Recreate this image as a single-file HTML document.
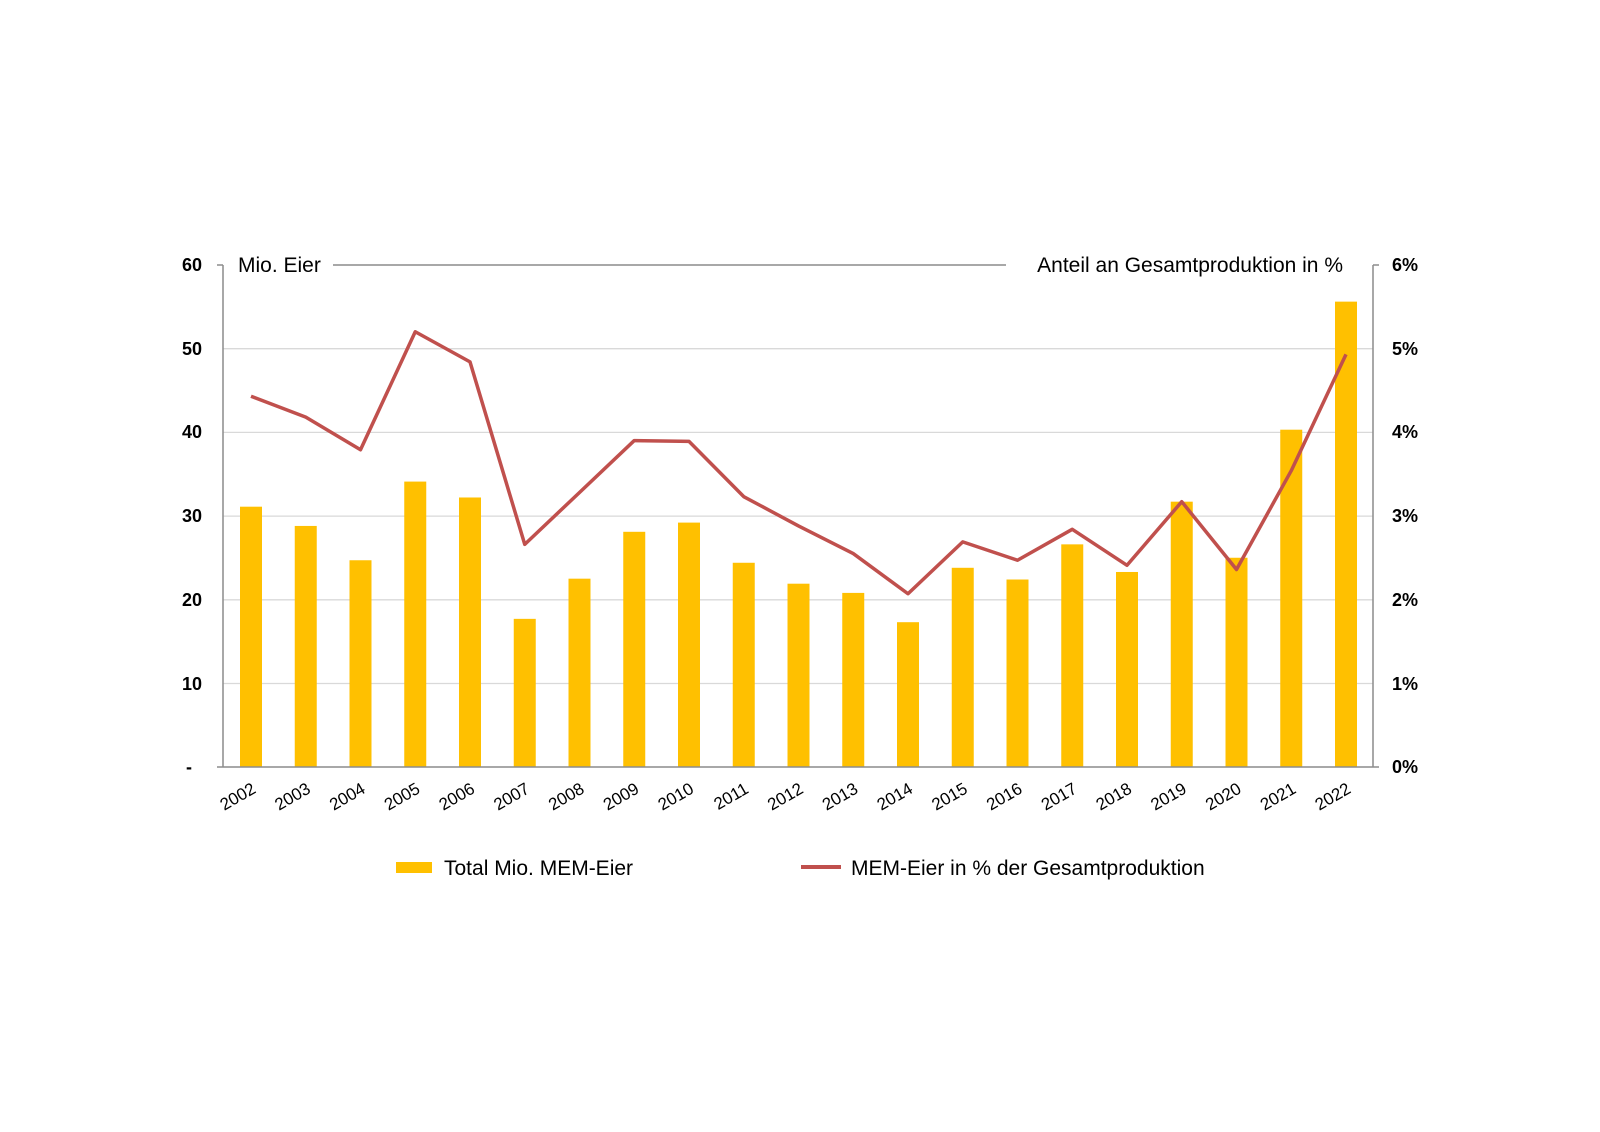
<!DOCTYPE html>
<html><head><meta charset="utf-8"><style>body{margin:0;background:#fff}svg{display:block}</style></head>
<body>
<svg width="1600" height="1132" viewBox="0 0 1600 1132" xmlns="http://www.w3.org/2000/svg" font-family="Liberation Sans, Arial, sans-serif">
<g stroke="#d9d9d9" stroke-width="1.3">
<line x1="223" x2="1373" y1="348.7" y2="348.7"/>
<line x1="223" x2="1373" y1="432.4" y2="432.4"/>
<line x1="223" x2="1373" y1="516.1" y2="516.1"/>
<line x1="223" x2="1373" y1="599.8" y2="599.8"/>
<line x1="223" x2="1373" y1="683.5" y2="683.5"/>
</g>
<g id="bars" fill="#ffc000"></g>
<g stroke="#8c8c8c" stroke-width="1.5" fill="none">
<line x1="223" y1="265" x2="223" y2="767"/>
<line x1="1373" y1="265" x2="1373" y2="767"/>
<line x1="223" y1="767" x2="1373" y2="767"/>
<line x1="217" y1="265" x2="223" y2="265"/>
<line x1="1373" y1="265" x2="1379" y2="265"/>
<line x1="217" y1="767" x2="223" y2="767"/>
<line x1="1373" y1="767" x2="1379" y2="767"/>
<line x1="333" y1="265" x2="1006" y2="265"/>
</g>
<polyline id="ln" fill="none" stroke="#c0504d" stroke-width="3.5" stroke-linejoin="round"/>
<g font-size="18" font-weight="bold" fill="#000">
<text x="202" y="271" text-anchor="end">60</text>
<text x="202" y="355" text-anchor="end">50</text>
<text x="202" y="438" text-anchor="end">40</text>
<text x="202" y="522" text-anchor="end">30</text>
<text x="202" y="606" text-anchor="end">20</text>
<text x="202" y="690" text-anchor="end">10</text>
<text x="192" y="773" text-anchor="end">-</text>
<text x="1392" y="271">6%</text>
<text x="1392" y="355">5%</text>
<text x="1392" y="438">4%</text>
<text x="1392" y="522">3%</text>
<text x="1392" y="606">2%</text>
<text x="1392" y="690">1%</text>
<text x="1392" y="773">0%</text>
</g>
<text x="238" y="272" font-size="21">Mio. Eier</text>
<text x="1343" y="272" font-size="21" text-anchor="end">Anteil an Gesamtproduktion in %</text>
<g id="years" font-size="17"></g>
<rect x="396" y="862" width="36" height="11" fill="#ffc000"/>
<text x="444" y="875" font-size="21">Total Mio. MEM-Eier</text>
<line x1="801" x2="841" y1="867" y2="867" stroke="#c0504d" stroke-width="4"/>
<text x="851" y="875" font-size="21">MEM-Eier in % der Gesamtproduktion</text>
<script>
var b=[31.1,28.8,24.7,34.1,32.2,17.7,22.5,28.1,29.2,24.4,21.9,20.8,17.3,23.8,22.4,26.6,23.3,31.7,25.0,40.3,55.6];
var p=[4.43,4.18,3.79,5.2,4.84,2.66,3.28,3.9,3.89,3.23,2.88,2.55,2.07,2.69,2.47,2.84,2.41,3.17,2.36,3.54,4.93];
var ns="http://www.w3.org/2000/svg",g=document.getElementById('bars'),yg=document.getElementById('years'),pts=[];
for(var i=0;i<21;i++){var c=251+54.75*i;var h=b[i]*8.37;
var r=document.createElementNS(ns,'rect');r.setAttribute('x',c-11);r.setAttribute('y',767-h);r.setAttribute('width',22);r.setAttribute('height',h);g.appendChild(r);
pts.push(c+','+(767-p[i]*83.7));
var t=document.createElementNS(ns,'text');t.setAttribute('transform','translate('+(c+6)+',792) rotate(-30)');t.setAttribute('text-anchor','end');t.textContent=2002+i;yg.appendChild(t);}
document.getElementById('ln').setAttribute('points',pts.join(' '));
</script>
</svg>
</body></html>
